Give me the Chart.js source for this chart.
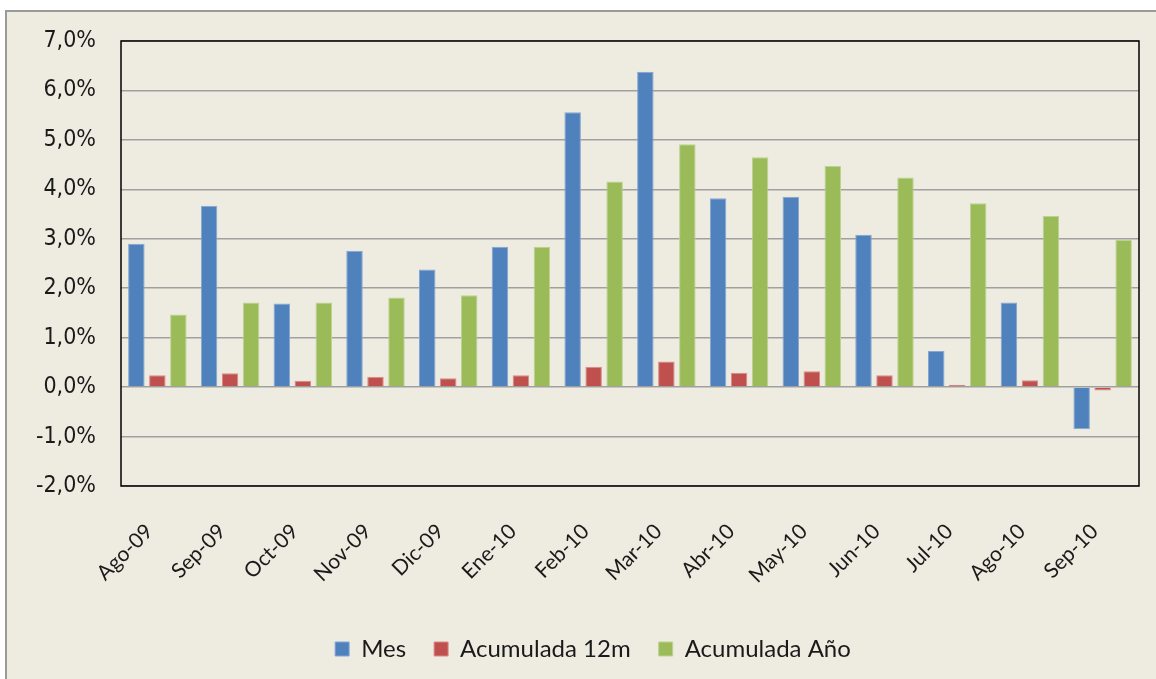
<!DOCTYPE html>
<html>
<head>
<meta charset="utf-8">
<script src="https://cdn.jsdelivr.net/npm/chart.js@4"></script>
<style>
  body { margin: 0; background: #ffffff; overflow: hidden; }
  #frame {
    position: absolute; left: 5px; top: 10px;
    width: 1151px; height: 669px;
    border-left: 2px solid #9a9a9a; border-top: 2px solid #9a9a9a;
    background: #eeece1;
  }
  #wrap { position: relative; width: 1149px; height: 667px; }
</style>
</head>
<body>
<div id="frame"><div id="wrap"><canvas id="inflacion"></canvas></div></div>
<script>
window.onload = function() {
//------------------------------------------------------------------------------
  var meses = ["Ago-09", "Sep-09", "Oct-09", "Nov-09", "Dic-09", "Ene-10", "Feb-10",
               "Mar-10", "Abr-10", "May-10", "Jun-10", "Jul-10", "Ago-10", "Sep-10"];
  var mes       = [2.90, 3.67, 1.69, 2.76, 2.38, 2.84, 5.56, 6.38, 3.82, 3.85, 3.08, 0.73, 1.71, -0.85];
  var acum12m   = [0.24, 0.28, 0.13, 0.21, 0.18, 0.24, 0.41, 0.52, 0.29, 0.32, 0.24, 0.05, 0.14, -0.07];
  var acumAnio  = [1.47, 1.71, 1.71, 1.81, 1.86, 2.84, 4.16, 4.91, 4.65, 4.47, 4.24, 3.72, 3.46, 2.98];
  var yMin = -2, yMax = 7, yStep = 1;

  var azul = "#4f81bd"; var azul_t = "Mes";
  var rojo = "#c0504d"; var rojo_t = "Acumulada 12m";
  var verde = "#9bbb59"; var verde_t = "Acumulada Año";
//------------------------------------------------------------------------------
  var marco = {
    id: "marco",
    afterLayout: function(chart) {
      // push the legend a bit to the right, as in the original
      chart.legend.left += 20;
      chart.legend.right += 20;
    },
    afterDatasetsDraw: function(chart) {
      var a = chart.chartArea, c = chart.ctx;
      c.save();
      c.strokeStyle = "#000";
      c.lineWidth = 1.5;
      c.strokeRect(a.left, a.top, a.right - a.left, a.bottom - a.top);
      c.restore();
    }
  };

  var ctx = document.getElementById("inflacion");
  var chart = new Chart(ctx, {
    type: 'bar',
    data: {
      labels: meses,
      datasets: [
        { label: azul_t, data: mes, backgroundColor: azul, borderColor: "#86a6d3", borderWidth: 1 },
        { label: rojo_t, data: acum12m, backgroundColor: rojo, borderColor: "#d98a88", borderWidth: 1 },
        { label: verde_t, data: acumAnio, backgroundColor: verde, borderColor: "#bcd290", borderWidth: 1 }
      ]
    },
    options: {
      responsive: true,
      maintainAspectRatio: false,
      animation: false,
      layout: { padding: { left: 0, top: 29, right: 17, bottom: 8 } },
      datasets: { bar: { categoryPercentage: 0.866, barPercentage: 0.786 } },
      scales: {
        x: {
          grid: { display: false },
          border: { display: false },
          ticks: {
            color: "#1a1a1a",
            font: { family: "Lato", size: 21 },
            minRotation: 45, maxRotation: 45,
            padding: 25,
            labelOffset: -8
          },
          afterFit: function(s) { s.height = 123; }
        },
        y: {
          min: yMin, max: yMax,
          grid: { color: "#a0a0a0", lineWidth: 1.5, drawTicks: true, tickLength: 25, tickColor: "rgba(0,0,0,0)" },
          border: { display: false },
          ticks: {
            stepSize: yStep,
            color: "#1a1a1a",
            font: { family: "'DejaVu Sans Condensed', 'DejaVu Sans'", size: 23 },
            padding: 0,
            callback: function(v) { return v.toFixed(1).replace(".", ",") + "%"; }
          },
          afterFit: function(s) { s.width = 114; }
        }
      },
      plugins: {
        legend: {
          position: 'bottom',
          labels: {
            color: "#1a1a1a",
            font: { family: "Lato", size: 24 },
            boxWidth: 14, boxHeight: 14,
            padding: 28
          }
        },
        tooltip: { enabled: false }
      }
    },
    plugins: [marco]
  });
//------------------------------------------------------------------------------
};
</script>
</body>
</html>
